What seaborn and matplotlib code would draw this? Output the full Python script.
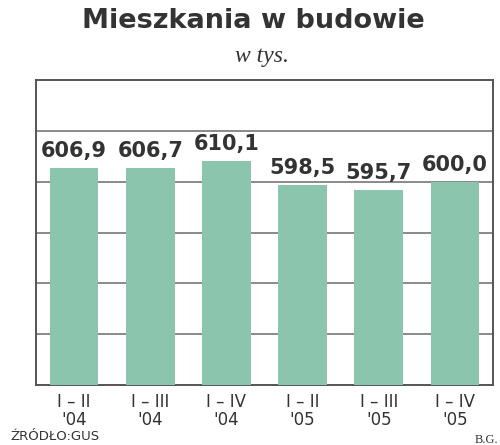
import matplotlib
matplotlib.use("Agg")
import matplotlib.pyplot as plt
import seaborn as sns
import pandas as pd

# Data (thousands of dwellings under construction)
periods = ["I – II\n'04", "I – III\n'04", "I – IV\n'04",
           "I – II\n'05", "I – III\n'05", "I – IV\n'05"]
values = [606.9, 606.7, 610.1, 598.5, 595.7, 600.0]
value_labels = ["606,9", "606,7", "610,1", "598,5", "595,7", "600,0"]
grid_ticks = [525, 550, 575, 600, 625]

BAR_COLOR = "#8cc5ad"
TEXT_COLOR = "#333333"

sns.set_style("white")
plt.rcParams["font.family"] = ["DejaVu Sans"]

df = pd.DataFrame({"period": periods, "value": values})

fig = plt.figure(figsize=(5, 4.45), dpi=100)
ax = fig.add_axes([0.072, 0.135, 0.914, 0.685])

sns.barplot(data=df, x="period", y="value", color=BAR_COLOR, width=0.64,
            saturation=1, linewidth=0, ax=ax, zorder=3)

ax.set_ylim(500, 650)
ax.set_xlim(-0.5, 5.5)
ax.set_yticks(grid_ticks)
ax.yaxis.grid(True, color="#8a8a8a", linewidth=1.4, zorder=0)
ax.set_axisbelow(True)
ax.tick_params(axis="y", left=False, labelleft=False)
ax.tick_params(axis="x", bottom=False, labelsize=12, colors=TEXT_COLOR, pad=2)
for lbl in ax.get_xticklabels():
    lbl.set_linespacing(1.0)
ax.set_xlabel("")
ax.set_ylabel("")
for side in ["left", "right", "top", "bottom"]:
    ax.spines[side].set_visible(True)
    ax.spines[side].set_color("#555555")
    ax.spines[side].set_linewidth(1.4)

for i, (v, txt) in enumerate(zip(values, value_labels)):
    ax.text(i, v + 3.5, txt, ha="center", va="bottom", fontsize=15,
            fontweight="bold", color=TEXT_COLOR, zorder=4)

fig.text(0.506, 0.952, "Mieszkania w budowie", ha="center", va="center",
         fontsize=19.5, fontweight="bold", color=TEXT_COLOR)
fig.text(0.524, 0.874, "w tys.", ha="center", va="center", fontsize=17,
         style="italic", family="Liberation Serif", color=TEXT_COLOR)
fig.text(0.02, 0.018, "ŹRÓDŁO:GUS", ha="left", va="center", fontsize=9.5,
         color=TEXT_COLOR)
fig.text(0.996, 0.012, "B.G.", ha="right", va="center", fontsize=9,
         family="Liberation Serif", color=TEXT_COLOR)

fig.savefig("out.png", dpi=100)
